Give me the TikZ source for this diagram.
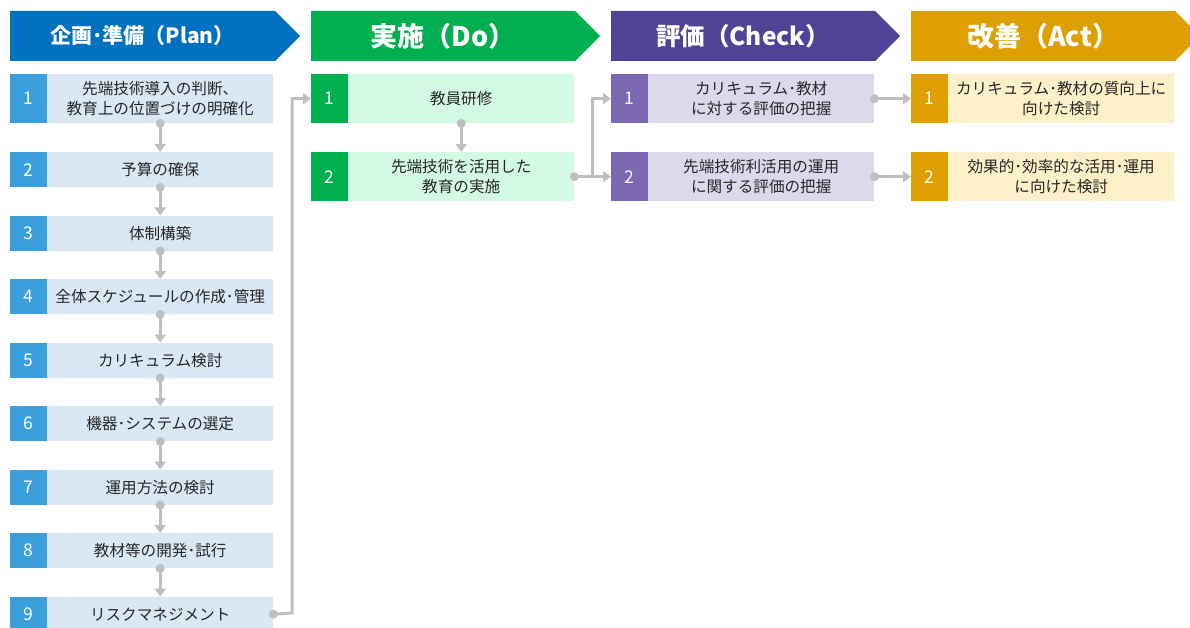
\documentclass[tikz,border=0pt]{standalone}
\usepackage{fontspec}
\setmainfont{Noto Sans CJK JP}
\usetikzlibrary{arrows.meta}
\definecolor{planH}{HTML}{0070C0}
\definecolor{planN}{HTML}{3A9FDD}
\definecolor{planL}{HTML}{DAE8F5}
\definecolor{doH}{HTML}{00B050}
\definecolor{doN}{HTML}{00B050}
\definecolor{doL}{HTML}{D3FAE4}
\definecolor{chkH}{HTML}{4F4398}
\definecolor{chkN}{HTML}{7C69B1}
\definecolor{chkL}{HTML}{DCD9EC}
\definecolor{actH}{HTML}{DDA000}
\definecolor{actN}{HTML}{DDA000}
\definecolor{actL}{HTML}{FEF0C8}
\definecolor{conn}{HTML}{BFBFBF}
\tikzset{
  numbox/.style={anchor=north west, minimum width=37pt, inner sep=0pt, text=white, font=\fontsize{17.5}{18}\selectfont},
  txtbox/.style={anchor=north west, minimum width=226pt, inner sep=0pt, align=center, text=black!85, font=\fontsize{15.6}{20}\selectfont},
  hdrtext/.style={text=white, font=\bfseries\fontsize{26}{28}\selectfont, inner sep=0pt},
  link/.style={draw=conn, line width=3pt, -{Triangle[width=11pt,length=8pt]}},
  dot/.style={fill=conn}
}
\begin{document}
\begin{tikzpicture}[x=1pt,y=-1pt]
\useasboundingbox (0,0) rectangle (1190,628);
% headers
\fill[planH] (10,11) -- (275,11) -- (300,36) -- (275,61) -- (10,61) -- cycle;
\node[hdrtext, font=\bfseries\fontsize{21}{22}\selectfont] (hplan) at (142.5,36) {企画･準備（Plan）};
\fill[doH] (311,11) -- (575,11) -- (600,36) -- (575,61) -- (311,61) -- cycle;
\node[hdrtext, font=\bfseries\fontsize{27}{28}\selectfont] (hdo) at (443,36) {実施（Do）};
\fill[chkH] (611,11) -- (875,11) -- (900,36) -- (875,61) -- (611,61) -- cycle;
\node[hdrtext, font=\bfseries\fontsize{24.5}{28}\selectfont] (hchk) at (743,36) {評価（Check）};
\fill[actH] (911,11) -- (1175,11) -- (1200,36) -- (1175,61) -- (911,61) -- cycle;
\node[hdrtext, font=\bfseries\fontsize{27}{28}\selectfont] (hact) at (1043,36) {改善（Act）};
% plan column
\node[numbox, fill=planN, minimum height=49pt] (pn1) at (10,74) {1};
\node[txtbox, fill=planL, minimum height=49pt] (p1) at (47,74) {先端技術導入の判断、\\教育上の位置づけの明確化};
\foreach \i/\y/\t in {2/152/予算の確保, 3/215.5/体制構築, 4/279/全体スケジュールの作成･管理, 5/342.5/カリキュラム検討, 6/406/機器･システムの選定, 7/469.5/運用方法の検討, 8/533/教材等の開発･試行, 9/596.5/リスクマネジメント}{
  \node[numbox, fill=planN, minimum height=35pt] (pn\i) at (10,\y) {\i};
  \node[txtbox, fill=planL, minimum height=35pt] (p\i) at (47,\y) {\t};
}
\foreach \a/\b in {1/2,2/3,3/4,4/5,5/6,6/7,7/8,8/9}{
  \draw[link] (p\a.south) -- (p\b.north);
  \fill[dot] (p\a.south) circle (4.5);
}
% do column
\node[numbox, fill=doN, minimum height=49pt] (dn1) at (311,74) {1};
\node[txtbox, fill=doL, minimum height=49pt] (d1) at (348,74) {教員研修};
\node[numbox, fill=doN, minimum height=49pt] (dn2) at (311,152) {2};
\node[txtbox, fill=doL, minimum height=49pt] (d2) at (348,152) {先端技術を活用した\\教育の実施};
\draw[link] (d1.south) -- (d2.north);
\fill[dot] (d1.south) circle (4.5);
% check column
\node[numbox, fill=chkN, minimum height=49pt] (cn1) at (611,74) {1};
\node[txtbox, fill=chkL, minimum height=49pt] (c1) at (648,74) {カリキュラム･教材\\に対する評価の把握};
\node[numbox, fill=chkN, minimum height=49pt] (cn2) at (611,152) {2};
\node[txtbox, fill=chkL, minimum height=49pt] (c2) at (648,152) {先端技術利活用の運用\\に関する評価の把握};
% act column
\node[numbox, fill=actN, minimum height=49pt] (an1) at (911,74) {1};
\node[txtbox, fill=actL, minimum height=49pt] (a1) at (948,74) {カリキュラム･教材の質向上に\\向けた検討};
\node[numbox, fill=actN, minimum height=49pt] (an2) at (911,152) {2};
\node[txtbox, fill=actL, minimum height=49pt] (a2) at (948,152) {効果的･効率的な活用･運用\\に向けた検討};
% cross-column connectors
\draw[link] (p9.east) -- (292,613) |- (dn1.west);
\fill[dot] (p9.east) circle (4.5);
\draw[link] (d2.east) -- (cn2.west);
\draw[link] (592,176.5) |- (cn1.west);
\fill[dot] (d2.east) circle (4.5);
\draw[link] (c1.east) -- (an1.west);
\fill[dot] (c1.east) circle (4.5);
\draw[link] (c2.east) -- (an2.west);
\fill[dot] (c2.east) circle (4.5);
\end{tikzpicture}
\end{document}
